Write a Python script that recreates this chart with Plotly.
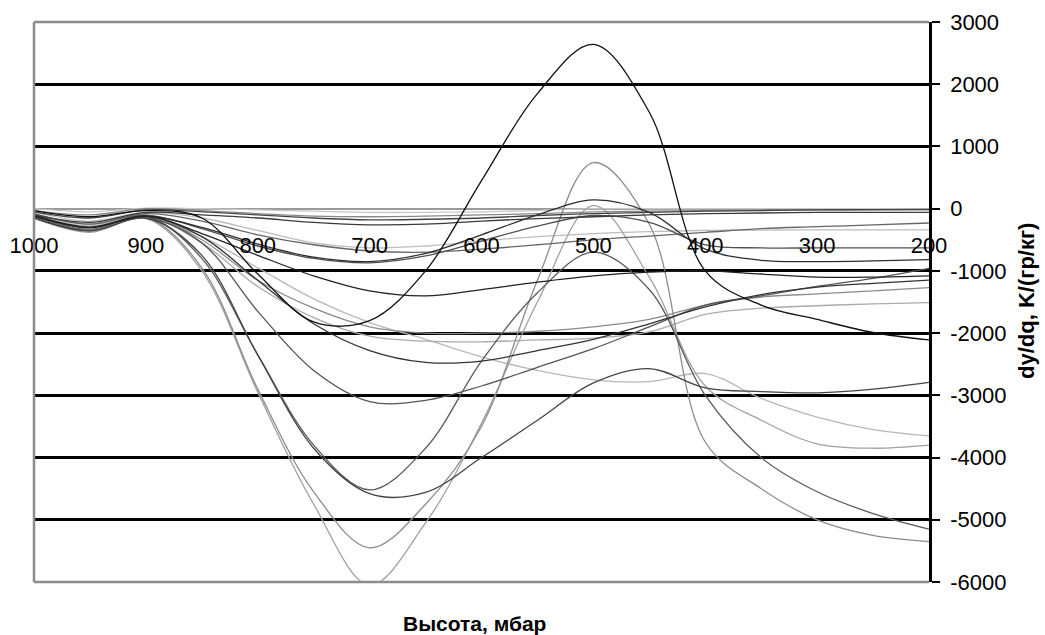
import plotly.graph_objects as go

# Pressure levels (mbar)
P = [1000, 950, 900, 850, 800, 750, 700, 650, 600, 550, 500, 450, 400, 350, 300, 250, 200]

# Series values dy/dq, K/(g/kg)
S_P3 = [0, -50, 10, 0, -20, -40, -60, -60, -50, -30, 0, 0, 0, 0, 0, 0, 0]
S_P2 = [-30, -100, 0, -30, -80, -120, -130, -120, -100, -80, -50, -40, -30, -25, -20, -20, -20]
S_P1 = [-50, -150, -20, -50, -100, -150, -180, -170, -150, -110, -80, -60, -40, -30, -20, -15, -10]
S_P4 = [-100, -220, -60, -100, -150, -220, -260, -250, -200, -160, -130, -100, -80, -70, -60, -60, -60]
S_Q = [-50, -200, -60, -150, -350, -550, -630, -600, -520, -450, -400, -370, -350, -345, -340, -340, -340]
S_I = [-80, -250, -80, -200, -420, -580, -680, -700, -650, -580, -500, -440, -380, -320, -290, -260, -230]
S_D = [-100, -300, -150, -450, -950, -1450, -1830, -2100, -2380, -2600, -2750, -2780, -2650, -3050, -3350, -3550, -3650]
S_N = [-100, -280, -120, -550, -1250, -1750, -2050, -2130, -2140, -2110, -2080, -1980, -1700, -1600, -1560, -1530, -1510]
S_M = [-80, -250, -100, -500, -1150, -1600, -1900, -2000, -2000, -1970, -1900, -1780, -1550, -1420, -1370, -1320, -1270]
S_A = [-150, -380, -160, -1000, -2950, -4750, -6050, -5050, -3450, -1500, 50, -1100, -2850, -3400, -3780, -3850, -3800]
S_B = [-120, -350, -140, -950, -2900, -4550, -5450, -4750, -3500, -1150, 740, -250, -3750, -4500, -5000, -5250, -5350]
S_C = [-130, -330, -120, -800, -2350, -3800, -4520, -3850, -2450, -1350, -700, -1300, -3000, -4000, -4550, -4900, -5150]
S_E = [-150, -360, -150, -750, -2350, -3850, -4580, -4560, -4000, -3400, -2800, -2570, -2880, -2940, -2960, -2900, -2790]
S_F = [-150, -350, -150, -550, -1650, -2600, -3100, -3080, -2850, -2550, -2250, -1900, -1550, -1400, -1250, -1120, -960]
S_G = [-100, -300, -120, -450, -1150, -1850, -2280, -2470, -2450, -2280, -2100, -1850, -1580, -1380, -1260, -1200, -1150]
S_L = [-120, -300, -120, -400, -750, -1080, -1320, -1400, -1300, -1180, -1080, -1020, -1000, -1050, -1100, -1100, -1080]
S_J = [-120, -300, -120, -300, -570, -780, -850, -720, -420, -100, 140, -60, -650, -830, -850, -840, -820]
S_K = [-110, -310, -110, -320, -600, -800, -870, -760, -520, -280, -110, -220, -580, -630, -630, -630, -630]
S_BLACK = [-30, -130, -30, -150, -1050, -1820, -1800, -1000, 450, 1850, 2640, 1550, -1000, -1550, -1780, -1990, -2110]

SERIES = [
    (S_P3, "#c8c8c8"), (S_Q, "#bdbdbd"), (S_D, "#b8b8b8"), (S_N, "#ababab"),
    (S_A, "#a0a0a0"), (S_B, "#8c8c8c"), (S_M, "#8a8a8a"), (S_P2, "#888888"),
    (S_I, "#666666"), (S_C, "#5a5a5a"), (S_F, "#555555"), (S_K, "#505050"),
    (S_E, "#444444"), (S_P4, "#3a3a3a"), (S_P1, "#444444"), (S_G, "#333333"),
    (S_J, "#2e2e2e"), (S_L, "#222222"), (S_BLACK, "#111111"),
]

X_TICKS = [1000, 900, 800, 700, 600, 500, 400, 300, 200]
Y_TICKS = [3000, 2000, 1000, 0, -1000, -2000, -3000, -4000, -5000, -6000]
Y_TICK_LABELS = ["3000", "2000", "1000", "0", "-1000", "-2000", "-3000", "-4000", "-5000", "-6000"]

FONT = "Liberation Sans, Arial, sans-serif"

fig = go.Figure()
for vals, col in SERIES:
    fig.add_trace(go.Scatter(
        x=P, y=vals, mode="lines",
        line=dict(color=col, width=1.3, shape="spline", smoothing=1.0),
        showlegend=False, hoverinfo="skip",
    ))

fig.update_layout(
    width=1045, height=635,
    margin=dict(l=34, r=116, t=22, b=53, autoexpand=False),
    paper_bgcolor="white", plot_bgcolor="white",
    font=dict(family=FONT, color="black"),
    xaxis=dict(
        range=[1000, 200], anchor="free", position=6000 / 9000,
        tickvals=X_TICKS, ticktext=[str(v) for v in X_TICKS],
        showgrid=False, zeroline=False, showline=False, automargin=False,
        ticks="", tickfont=dict(size=22, family=FONT, color="black"),
        ticklabelstandoff=21,
    ),
    yaxis=dict(
        range=[-6000, 3000], side="right", automargin=False,
        tickvals=Y_TICKS, ticktext=Y_TICK_LABELS,
        showgrid=True, gridcolor="black", gridwidth=2.5,
        zeroline=True, zerolinecolor="#9a9a9a", zerolinewidth=1.5,
        showline=True, linecolor="black", linewidth=2.5,
        ticks="outside", ticklen=8, tickwidth=2, tickcolor="black",
        tickfont=dict(size=22, family=FONT, color="black"),
        ticklabelstandoff=6,
    ),
    shapes=[
        dict(type="line", xref="paper", yref="paper", x0=0, x1=0, y0=0, y1=1,
             line=dict(color="#8c8c8c", width=2.5), layer="above"),
        dict(type="line", xref="paper", yref="paper", x0=0, x1=1, y0=1, y1=1,
             line=dict(color="#8c8c8c", width=2.5), layer="above"),
        dict(type="line", xref="paper", yref="paper", x0=0, x1=1, y0=0, y1=0,
             line=dict(color="#8c8c8c", width=2.5), layer="above"),
    ],
    annotations=[
        dict(text="<b>Высота, мбар</b>", xref="paper", yref="paper",
             x=(474 - 34) / 895, y=(582 - 623) / 560, showarrow=False,
             xanchor="center", yanchor="middle",
             font=dict(size=21, family=FONT, color="black")),
        dict(text="<b>dy/dq, K/(гр/кг)</b>", xref="paper", yref="paper",
             x=(1026 - 34) / 895, y=(582 - 301) / 560, showarrow=False,
             xanchor="center", yanchor="middle", textangle=-90,
             font=dict(size=22, family=FONT, color="black")),
    ],
)

fig.write_html("out.html", config={"displayModeBar": False},
               post_script="document.body.style.margin='0px';")
